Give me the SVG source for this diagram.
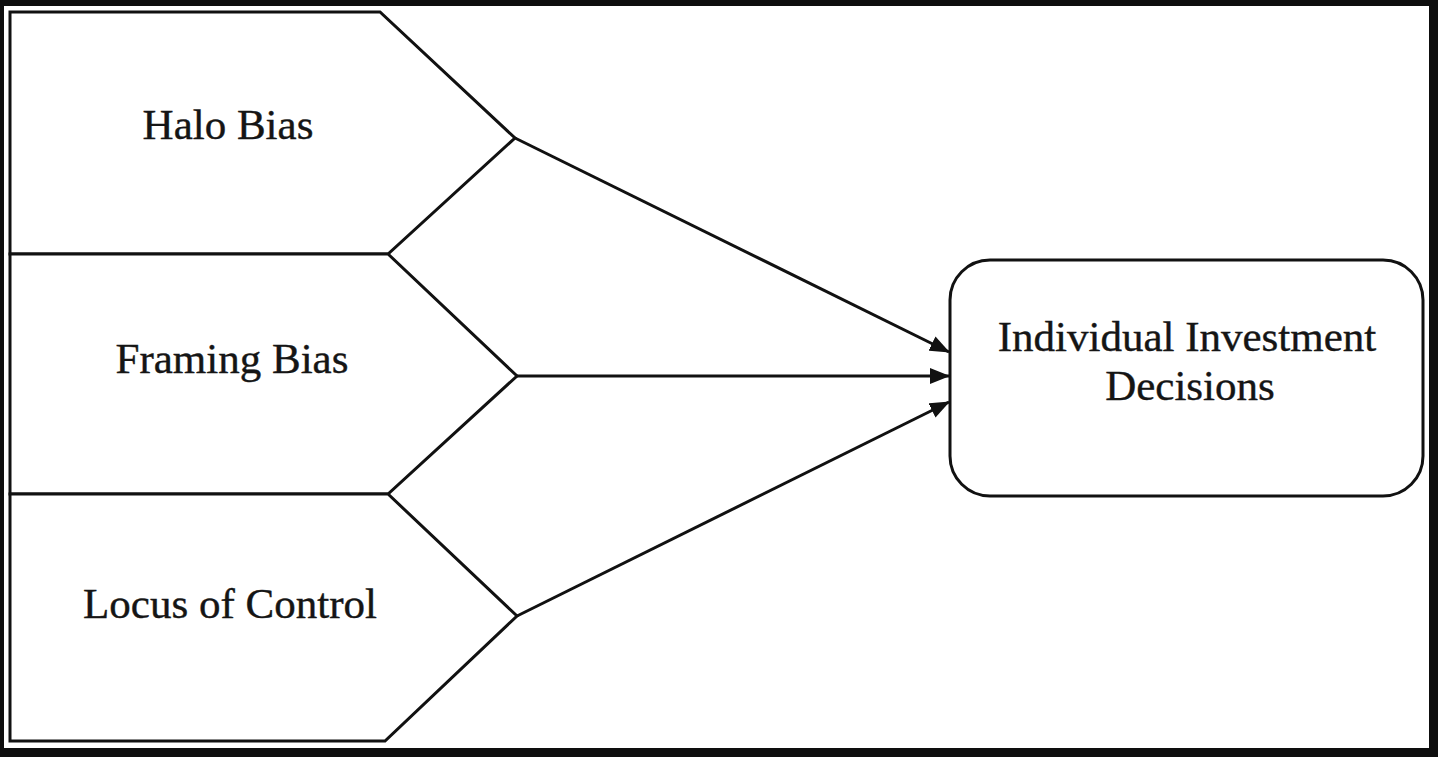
<svg xmlns="http://www.w3.org/2000/svg" width="1438" height="757" viewBox="0 0 1438 757">
<defs>
<style>
.shape{fill:#fff;stroke:#111;stroke-width:3;stroke-linejoin:miter}
.lbl{font-family:"Liberation Serif","Times New Roman",serif;font-size:43px;fill:#151515;text-anchor:middle;stroke:#151515;stroke-width:0.4}
.conn{stroke:#111;stroke-width:3;fill:none}
</style>
<marker id="arrow" viewBox="0 0 20 16" refX="19" refY="8" markerWidth="20" markerHeight="16" orient="auto" markerUnits="userSpaceOnUse">
<path d="M0,0 L20,8 L0,16 Z" fill="#111"/>
</marker>
</defs>
<rect x="0" y="0" width="1438" height="757" fill="#0e0e0e"/>
<rect x="4" y="6" width="1425" height="742" fill="#fff"/>
<g id="halo">
<path class="shape" d="M10,12 L380,12 L515,138 L388,254 L10,254 Z"/>
<text class="lbl" x="228" y="139">Halo Bias</text>
</g>
<g id="framing">
<path class="shape" d="M10,254 L388,254 L517,376 L388,494 L10,494 Z"/>
<text class="lbl" x="232" y="373">Framing Bias</text>
</g>
<g id="locus">
<path class="shape" d="M10,494 L388,494 L517,616 L385,741 L10,741 Z"/>
<text class="lbl" x="230" y="618">Locus of Control</text>
</g>
<g id="decisions">
<rect class="shape" x="950" y="260" width="473" height="236" rx="40" ry="40"/>
<text class="lbl" x="1187" y="351">Individual Investment</text>
<text class="lbl" x="1190" y="400">Decisions</text>
</g>
<g id="connectors">
<line class="conn" x1="515" y1="138" x2="949" y2="352" marker-end="url(#arrow)"/>
<line class="conn" x1="517" y1="376" x2="949" y2="376" marker-end="url(#arrow)"/>
<line class="conn" x1="517" y1="616" x2="949" y2="402" marker-end="url(#arrow)"/>
</g>
</svg>
